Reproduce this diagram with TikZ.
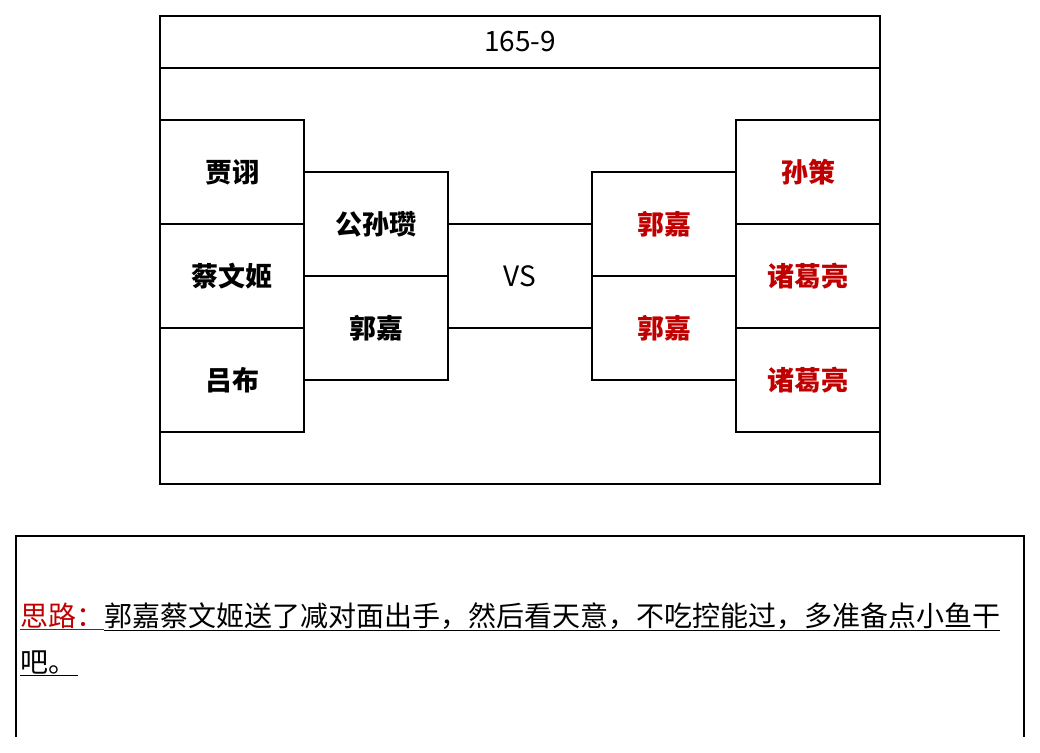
\documentclass[tikz,border=0pt]{standalone}
\usepackage{fontspec}
\setmainfont{Noto Sans CJK SC}
\newfontfamily\cjk{Noto Sans CJK SC}
\definecolor{hero}{HTML}{C00000}
\tikzset{
  frame/.style={draw,line width=2pt,inner sep=0pt,outer sep=0pt},
  card/.style={frame,minimum width=144pt,minimum height=104pt,
    font=\cjk\bfseries\fontsize{27}{31}\selectfont},
  foe/.style={card,text=hero},
  plain/.style={font=\cjk\fontsize{28}{32}\selectfont},
  note/.style={anchor=base west,inner sep=0pt,font=\cjk\fontsize{28}{34}\selectfont},
}

\begin{document}
\begin{tikzpicture}[x=1pt,y=-1pt]
  \useasboundingbox (0,0) rectangle (1040,752);
  % top panel
  \node[frame,plain,minimum width=720pt,minimum height=52pt] (title) at (520,42) {165-9};
  \node[frame,minimum width=720pt,minimum height=416pt] (board) at (520,276) {};
  \node[plain] (vs) at (520,276) {VS};
  % our side
  \node[card] (jx) at (232,172) {贾诩};
  \node[card] (cwj) at (232,276) {蔡文姬};
  \node[card] (lb) at (232,380) {吕布};
  \node[card] (gsz) at (376,224) {公孙瓒};
  \node[card] (gj) at (376,328) {郭嘉};
  % their side
  \node[foe] (egja) at (664,224) {郭嘉};
  \node[foe] (egjb) at (664,328) {郭嘉};
  \node[foe] (sc) at (808,172) {孙策};
  \node[foe] (zgla) at (808,276) {诸葛亮};
  \node[foe] (zglb) at (808,380) {诸葛亮};
  \draw[line width=2pt] (gsz.east)--(egja.west);
  \draw[line width=2pt] (gj.east)--(egjb.west);
  % notes panel
  \draw[line width=2pt] (16,737)--(16,536)--(1024,536)--(1024,737);
  \node[note] (idea) at (20,626) {\textcolor{hero}{\underline{思路：}}\underline{郭嘉蔡文姬送了减对面出手，然后看天意，不吃控能过，多准备点小鱼干}};
  \node[note] (idea2) at (20,672) {\underline{吧。\hspace{2pt}}};
\end{tikzpicture}
\end{document}
